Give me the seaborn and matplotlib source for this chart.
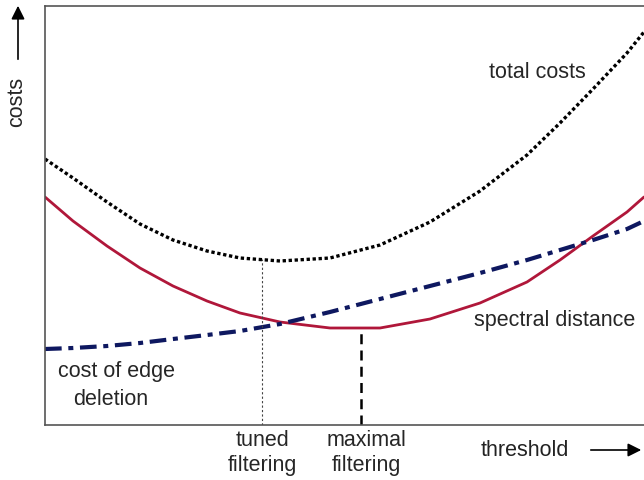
import numpy as np
import pandas as pd
import matplotlib
matplotlib.use("Agg")
import matplotlib.pyplot as plt
import seaborn as sns

# values (threshold / cost, arbitrary units)
threshold = [0, 28, 62, 95, 128, 162, 195, 235, 285, 335, 385, 435, 482, 515, 548, 582, 599]
total_costs = [266, 247, 223, 201, 185, 174, 167, 164, 167, 180, 203, 234, 270, 302, 336, 372, 393]
spectral_distance = [228, 204, 179, 157, 139, 124, 112, 103, 97, 97, 106, 122, 143, 165, 189, 213, 228]
edge_deletion = [76, 77, 79, 82, 86, 90, 94, 101, 113, 126, 139, 152, 165, 175, 185, 196, 204]
tuned_x, tuned_top = 217, 166
maximal_x, maximal_top = 316, 96

sns.set_style("white")
plt.rcParams["font.family"] = ["Liberation Sans", "DejaVu Sans"]

fig = plt.figure(figsize=(6.44, 4.81), dpi=100)
ax = fig.add_axes([45 / 644, 55 / 481, 600 / 644, 419 / 481])

df = pd.DataFrame({"threshold": threshold, "total": total_costs,
                   "spectral": spectral_distance, "edge": edge_deletion})

sns.lineplot(data=df, x="threshold", y="total", ax=ax, color="black",
             linewidth=2.4, linestyle=(0, (1, 0.8)))
sns.lineplot(data=df, x="threshold", y="spectral", ax=ax, color="#b0173a",
             linewidth=2)
sns.lineplot(data=df, x="threshold", y="edge", ax=ax, color="#0e1860",
             linewidth=3, linestyle=(0, (4, 1.6, 1.2, 1.6)))

ax.plot([tuned_x, tuned_x], [0, tuned_top], color="#444444", linewidth=0.8,
        linestyle=(0, (2, 2)))
ax.plot([maximal_x, maximal_x], [0, maximal_top], color="black", linewidth=1.8,
        linestyle=(0, (4, 2.5)))

ax.set_xlim(0, 600)
ax.set_ylim(0, 419)
ax.set_xticks([])
ax.set_yticks([])
ax.set_xlabel("")
ax.set_ylabel("")
for s in ax.spines.values():
    s.set_color("#555555")
    s.set_linewidth(1.2)

fs = 15.5
ax.text(492, 353, "total costs", fontsize=fs, ha="center", va="center")
ax.text(510, 105, "spectral distance", fontsize=fs, ha="center", va="center")
ax.text(13, 54, "cost of edge", fontsize=fs, ha="left", va="center")
ax.text(28, 26, "deletion", fontsize=fs, ha="left", va="center")

# labels below the axis
for x, lines in [(tuned_x, ["tuned", "filtering"]), (321, ["maximal", "filtering"])]:
    ax.text(x, -15, lines[0], fontsize=fs, ha="center", va="center", clip_on=False)
    ax.text(x, -40, lines[1], fontsize=fs, ha="center", va="center", clip_on=False)

fig.text(525 / 644, 1 - 451 / 481, "threshold", fontsize=fs, ha="center",
         va="center", color="#222222")
fig.text(17 / 644, 1 - 102 / 481, "costs", fontsize=fs, ha="center",
         va="center", rotation=90)
fig.add_artist(matplotlib.patches.FancyArrowPatch(
    (588 / 644, 1 - 451 / 481), (644 / 644, 1 - 451 / 481),
    transform=fig.transFigure, arrowstyle="-|>,head_length=8,head_width=4",
    color="black", linewidth=1.2))
fig.add_artist(matplotlib.patches.FancyArrowPatch(
    (18 / 644, 1 - 63 / 481), (18 / 644, 1 - 4 / 481),
    transform=fig.transFigure, arrowstyle="-|>,head_length=8,head_width=4",
    color="black", linewidth=1.2))

fig.savefig("out.png", dpi=100)
